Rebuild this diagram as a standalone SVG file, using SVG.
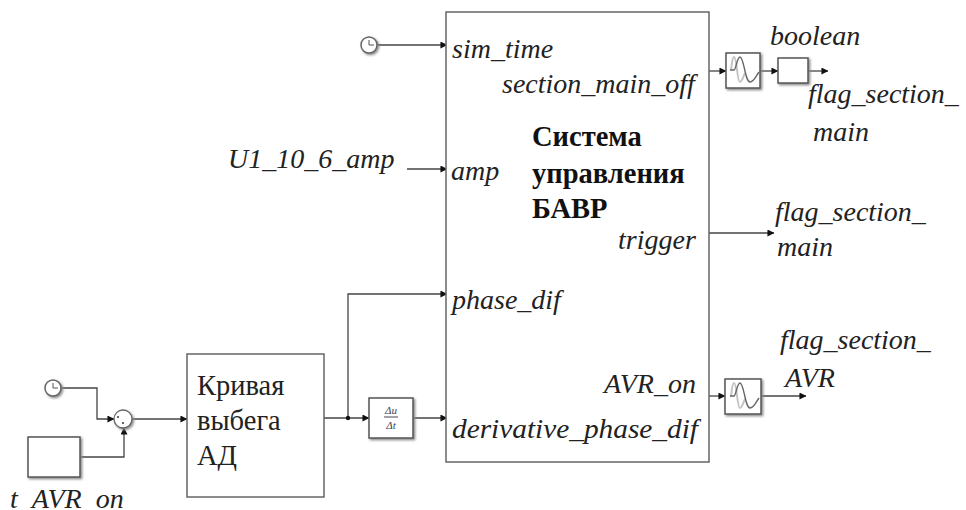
<svg xmlns="http://www.w3.org/2000/svg" width="966" height="510" viewBox="0 0 966 510">
<style>
.t{font-family:"Liberation Serif",serif;font-size:28px;font-style:italic;fill:#222}
.r{font-family:"Liberation Serif",serif;font-size:28.500px;fill:#222}
.b{font-family:"Liberation Serif",serif;font-size:28.500px;font-weight:bold;fill:#111}
.box{fill:#fff;stroke:#666;stroke-width:1.5}
.blk{fill:#fff;stroke:#555;stroke-width:1.5}
.c{fill:none;stroke:#444;stroke-width:1.3;marker-end:url(#a)}
.w{fill:none}
.d{font-family:"Liberation Serif",serif;font-size:11px;font-style:italic;fill:#445;text-anchor:middle}
</style>
<defs>
<marker id="a" viewBox="0 0 8 8" refX="7.500" refY="4" markerWidth="7" markerHeight="7" markerUnits="userSpaceOnUse" orient="auto"><path d="M0 0L8 4L0 8z" fill="#111"/></marker>
<filter id="s" x="-30%" y="-30%" width="170%" height="170%"><feDropShadow dx="1.500" dy="1.500" stdDeviation="1.200" flood-color="#888"/></filter>
<g id="wave"><path class="w" stroke="#c4c4c4" stroke-width="2" d="M-12 0C-11-6-11-13-9-13C-6-13-6 12-3 12C-1 12 0 7 2 3"/><path class="w" stroke="#666" stroke-width="1.400" d="M-13 0H-9C-7 0-6-13-3-13C1-13 2 12 7 12C11 12 13 6 16 2"/></g>
<g id="clock"><circle r="8" fill="#fff" stroke="#666" stroke-width="1.500" filter="url(#s)"/><path d="M0-5V0H5" fill="none" stroke="#555" stroke-width="1"/></g>
</defs>
<rect width="966" height="510" fill="#fff"/>
<g id="connectors">
<path class="c" d="M377 45H447"/>
<path class="c" d="M407 169H447"/>
<path class="c" d="M348 418V294H447"/>
<path class="c" d="M324 418H369"/>
<path class="c" d="M413 418H447"/>
<path class="c" d="M709 71H726"/>
<path class="c" d="M760 71H778"/>
<path class="c" d="M808 71H828"/>
<path class="c" d="M709 233H774"/>
<path class="c" d="M709 396H725"/>
<path class="c" d="M761 396H806"/>
<path class="c" d="M61 388H97V419H114"/>
<path class="c" d="M80 457H124V428"/>
<path class="c" d="M132 419H187"/>
<circle cx="348" cy="418" r="2.200" fill="#111"/>
</g>
<g id="control"><rect class="box" x="446" y="12" width="263" height="450"/>
<text class="t" x="452" y="58">sim_time</text>
<text class="t" x="502" y="93">section_main_off</text>
<text class="t" x="451" y="180">amp</text>
<text class="t" x="618" y="249">trigger</text>
<text class="t" x="452" y="309">phase_dif</text>
<text class="t" x="604" y="393">AVR_on</text>
<text class="t" x="452" y="438" textLength="246" lengthAdjust="spacingAndGlyphs">derivative_phase_dif</text>
<text class="b" x="532" y="146">Система</text>
<text class="b" x="532" y="183">управления</text>
<text class="b" x="532" y="218">БАВР</text></g>
<g id="clock-top"><use href="#clock" x="369" y="45"/></g>
<g id="u1"><text class="t" x="228" y="168">U1_10_6_amp</text></g>
<g id="clock-left"><use href="#clock" x="53" y="388"/></g>
<g id="sum"><circle cx="123" cy="419" r="9" fill="#fff" stroke="#666" stroke-width="1.300" filter="url(#s)"/><circle cx="118" cy="417" r="1" fill="#333"/><circle cx="123" cy="423" r="1" fill="#333"/></g>
<g id="t-avr-on"><rect class="blk" x="28" y="437" width="52" height="40" filter="url(#s)"/><text class="t" x="10" y="508">t_AVR_on</text></g>
<g id="curve"><rect class="box" x="187" y="354" width="137" height="143"/>
<text class="r" x="197" y="395">Кривая</text><text class="r" x="197" y="430">выбега</text><text class="r" x="197" y="465">АД</text></g>
<g id="deriv"><rect class="blk" x="369" y="398" width="44" height="40" filter="url(#s)"/>
<text class="d" x="391" y="414">Δu</text><path d="M384 417H398" stroke="#445" stroke-width="1"/><text class="d" x="391" y="429">Δt</text></g>
<g id="filter-top"><rect class="blk" x="726" y="53" width="34" height="35" filter="url(#s)"/><use href="#wave" x="743" y="70"/></g>
<g id="bool"><rect class="blk" x="778" y="58" width="30" height="25" filter="url(#s)"/><text class="t" x="770" y="45">boolean</text></g>
<g id="flag-1"><text class="t" x="808" y="103">flag_section_</text><text class="t" x="813" y="141">main</text></g>
<g id="flag-2"><text class="t" x="775" y="221">flag_section_</text><text class="t" x="777" y="256">main</text></g>
<g id="filter-bottom"><rect class="blk" x="725" y="379" width="36" height="35" filter="url(#s)"/><use href="#wave" x="743" y="396"/></g>
<g id="flag-3"><text class="t" x="780" y="349">flag_section_</text><text class="t" x="785" y="387">AVR</text></g>
</svg>
